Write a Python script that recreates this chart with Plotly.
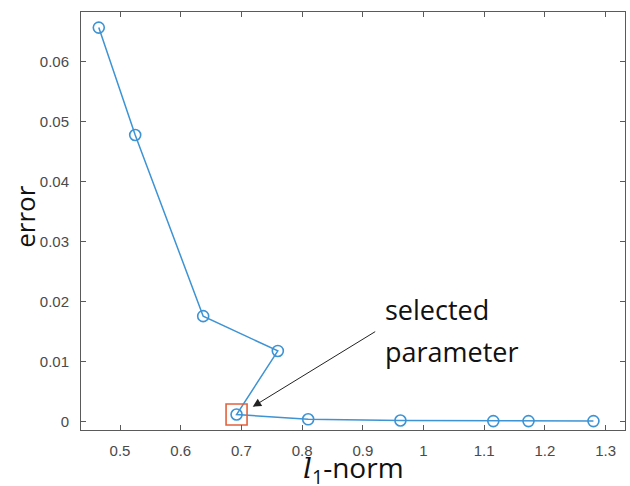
import plotly.graph_objects as go

# data
l1_norm = [0.465, 0.525, 0.637, 0.760, 0.692, 0.810, 0.962, 1.115, 1.173, 1.280]
error = [0.0657, 0.0478, 0.0176, 0.0118, 0.0012, 0.0004, 0.0002, 0.0001, 0.0001, 0.0001]
selected_index = 4

x_tickvals = [0.5, 0.6, 0.7, 0.8, 0.9, 1.0, 1.1, 1.2, 1.3]
x_ticktext = ["0.5", "0.6", "0.7", "0.8", "0.9", "1", "1.1", "1.2", "1.3"]
y_tickvals = [0, 0.01, 0.02, 0.03, 0.04, 0.05, 0.06]
y_ticktext = ["0", "0.01", "0.02", "0.03", "0.04", "0.05", "0.06"]

line_blue = "#3d93d4"
sel_orange = "#e2623c"
axis_col = "#5a5a5a"
tick_font = dict(family="Liberation Sans, Arial, sans-serif", size=15, color="#4a4a4a")
label_font = dict(family="Open Sans, Liberation Sans, sans-serif", size=27, color="#111111")

fig = go.Figure()
fig.add_trace(go.Scatter(
    x=l1_norm, y=error, mode="lines+markers",
    line=dict(color=line_blue, width=1.5),
    marker=dict(symbol="circle-open", size=11, color=line_blue, line=dict(width=1.6, color=line_blue)),
    showlegend=False, hoverinfo="skip",
))
fig.add_trace(go.Scatter(
    x=[l1_norm[selected_index]], y=[error[selected_index]], mode="markers",
    marker=dict(symbol="square-open", size=21, color=sel_orange, line=dict(width=1.6, color=sel_orange)),
    showlegend=False, hoverinfo="skip",
))

axis_common = dict(
    showline=True, linecolor=axis_col, linewidth=1, mirror="ticks",
    ticks="inside", ticklen=5, tickcolor=axis_col, tickwidth=1,
    showgrid=False, zeroline=False, tickfont=tick_font,
)

fig.update_xaxes(range=[0.4357, 1.332], tickvals=x_tickvals, ticktext=x_ticktext,
                 ticklabelstandoff=7, **axis_common)
fig.update_yaxes(range=[-0.00138, 0.0683], tickvals=y_tickvals, ticktext=y_ticktext,
                 ticklabelstandoff=8, **axis_common)

# arrow pointing at selected parameter
fig.add_annotation(
    x=0.7186, y=0.0025, ax=0.9229, ay=0.01517, xref="x", yref="y", axref="x", ayref="y",
    text="", showarrow=True, arrowhead=2, arrowsize=1.7, arrowwidth=1, arrowcolor="#222222",
    standoff=0, startstandoff=0,
)
fig.add_annotation(x=0.9333, y=0.01878, xref="x", yref="y", text="selected", showarrow=False,
                   xanchor="left", yanchor="middle", font=label_font)
fig.add_annotation(x=0.9333, y=0.0117, xref="x", yref="y", text="parameter", showarrow=False,
                   xanchor="left", yanchor="middle", font=label_font)

# axis titles
fig.add_annotation(x=-0.103, y=0.51, xref="paper", yref="paper", text="error", textangle=-90,
                   showarrow=False, xanchor="center", yanchor="middle",
                   font=dict(family="Open Sans, Liberation Sans, sans-serif", size=26, color="#111111"))
fig.add_annotation(
    x=0.5, y=0, xref="paper", yref="paper", yshift=-16, xanchor="center", yanchor="top",
    text="<span style='font-family:DejaVu Serif'><i>l</i></span><sub>1</sub>-norm",
    showarrow=False, font=dict(family="Open Sans, Liberation Sans, sans-serif", size=28, color="#111111"),
)

fig.update_layout(
    width=630, height=486,
    margin=dict(l=81, r=5, t=12, b=56),
    paper_bgcolor="white", plot_bgcolor="white",
)

fig.write_html("out.html")
